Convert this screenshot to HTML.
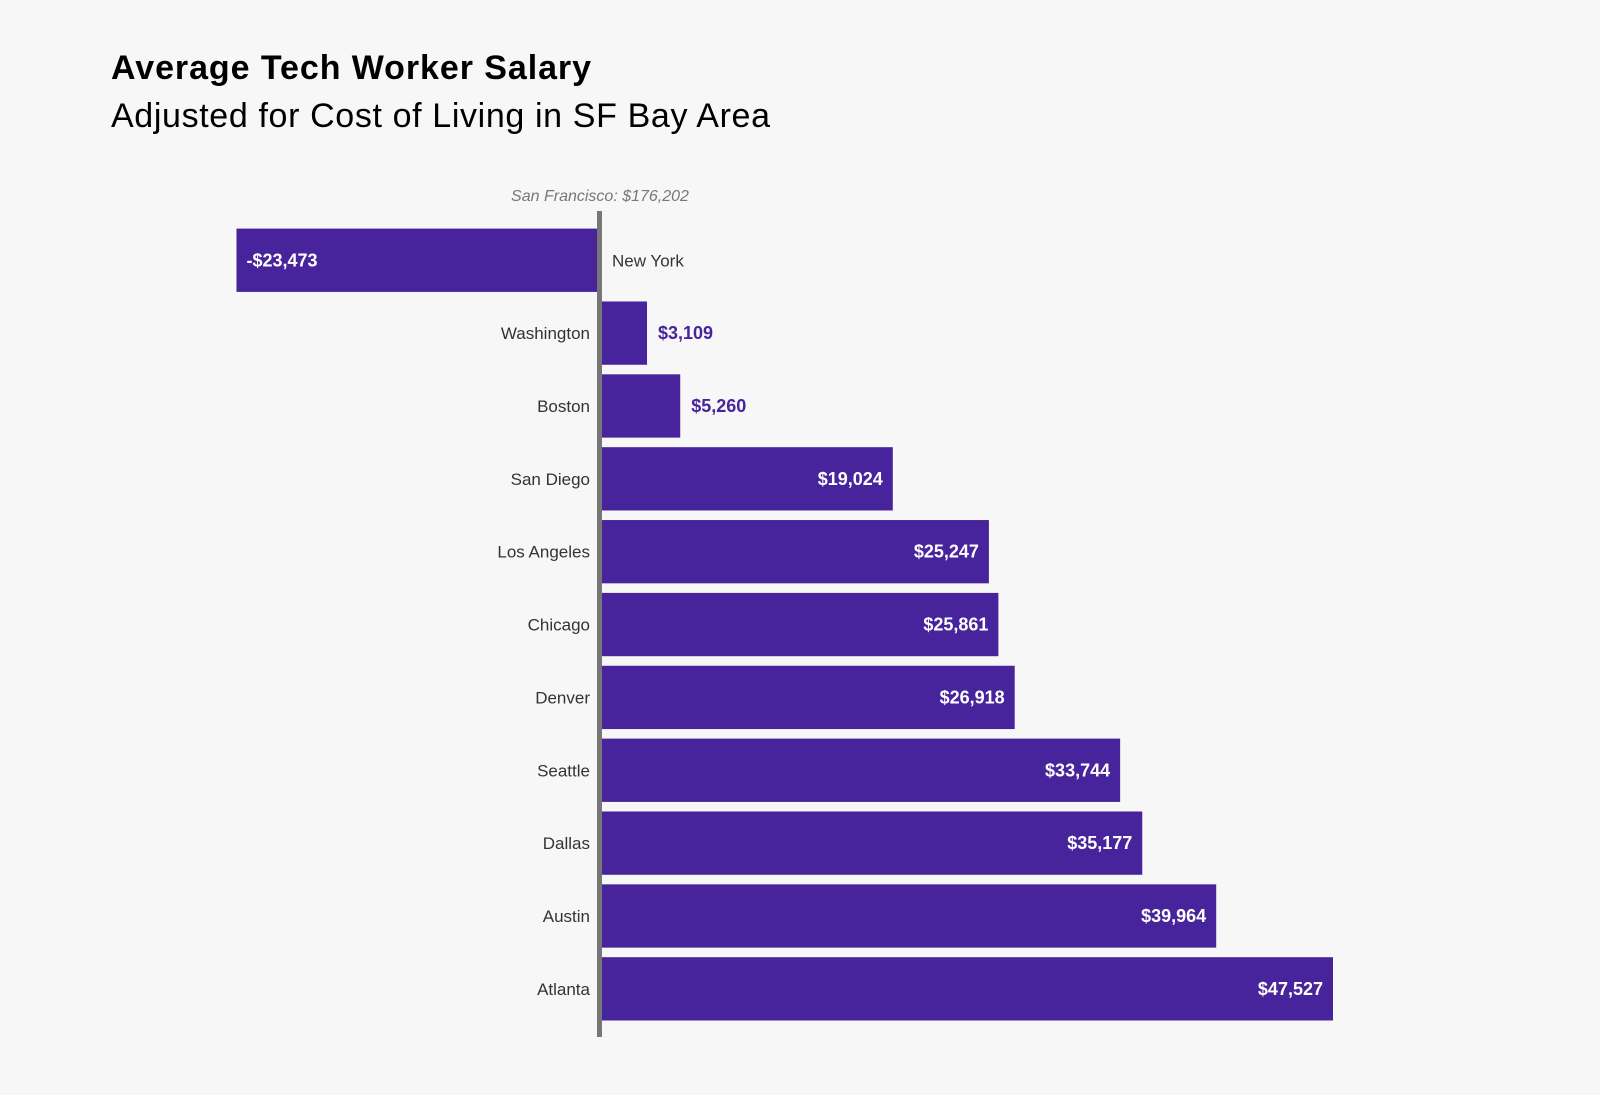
<!DOCTYPE html>
<html><head><meta charset="utf-8"><style>
body{margin:0;background:#f7f7f7;font-family:"Liberation Sans",sans-serif;}
</style></head><body>
<svg width="1600" height="1090" xmlns="http://www.w3.org/2000/svg">
<rect width="1600" height="1090" fill="#f7f7f7"/>
<text x="111" y="79" font-size="34" font-weight="bold" fill="#000" textLength="480">Average Tech Worker Salary</text>
<text x="111" y="127" font-size="34" fill="#000" textLength="659">Adjusted for Cost of Living in SF Bay Area</text>
<text x="600" y="201" font-size="16" font-style="italic" fill="#777" text-anchor="middle">San Francisco: $176,202</text>
<g id="bars"></g>
<rect x="597" y="211" width="5" height="826" fill="#777"/>
</svg>
<script>
const categories=["New York","Washington","Boston","San Diego","Los Angeles","Chicago","Denver","Seattle","Dallas","Austin","Atlanta"];
const values=[-23473,3109,5260,19024,25247,25861,26918,33744,35177,39964,47527];
const labels=["-$23,473","$3,109","$5,260","$19,024","$25,247","$25,861","$26,918","$33,744","$35,177","$39,964","$47,527"];
const x0=599, k=734/47527, top0=228.6, pitch=72.86, bh=63.3;
const xs=v=>x0+v*k;
const g=document.getElementById('bars');
const NS="http://www.w3.org/2000/svg";
function mk(t,a){const e=document.createElementNS(NS,t);for(const n in a)e.setAttribute(n,a[n]);return e;}
categories.forEach((c,i)=>{
  const v=values[i],y=top0+i*pitch,x1=Math.min(xs(0),xs(v)),x2=Math.max(xs(0),xs(v));
  const r=mk('rect',{x:x1,y:y,width:x2-x1,height:bh,fill:'#48249c'});
  
  
  g.appendChild(r);
  const cy=y+bh/2+6;
  const cl=mk('text',{y:cy,'font-size':17,fill:'#333'});
  if(v<0){cl.setAttribute('x',612);}else{cl.setAttribute('x',590);cl.setAttribute('text-anchor','end');}
  cl.textContent=c;
  
  
  g.appendChild(cl);
  const vl=mk('text',{y:cy,'font-size':18,'font-weight':'bold'});
  if(v<0){vl.setAttribute('x',x1+10);vl.setAttribute('fill','#fff');}
  else if(x2-x1<120){vl.setAttribute('x',x2+11);vl.setAttribute('fill','#48249c');}
  else{vl.setAttribute('x',x2-10);vl.setAttribute('text-anchor','end');vl.setAttribute('fill','#fff');}
  vl.textContent=labels[i];
  
  
  g.appendChild(vl);
});
</script>
</body></html>
